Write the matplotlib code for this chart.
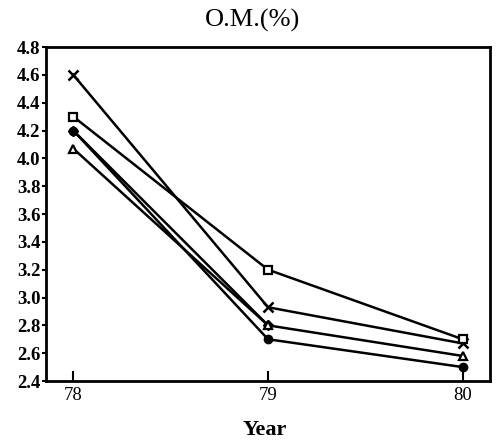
import numpy as np
import matplotlib
matplotlib.use("Agg")
import matplotlib.pyplot as plt

# Organic matter (%) by year
years = [78, 79, 80]
om_cross = [4.6, 2.93, 2.67]
om_square = [4.3, 3.2, 2.7]
om_filled = [4.2, 2.8, np.nan]
om_triangle = [4.07, 2.8, 2.58]
om_circle = [4.2, 2.7, 2.5]
yticks = [2.4, 2.6, 2.8, 3.0, 3.2, 3.4, 3.6, 3.8, 4.0, 4.2, 4.4, 4.6, 4.8]

plt.rcParams['font.family'] = ['Liberation Serif', 'DejaVu Serif']

fig = plt.figure(figsize=(4.97, 4.46), dpi=100)
ax = fig.add_axes([0.0926, 0.1457, 0.8934, 0.7489])

kw = dict(color='black', lw=1.8)
ax.plot(years, om_cross, marker='x', ms=7, mew=1.8, **kw)
ax.plot(years, om_square, marker='s', ms=5.5, mfc='white', mew=1.6, **kw)
ax.plot(years, om_filled, marker='D', ms=5, **kw)
ax.plot(years, om_triangle, marker='^', ms=6, mfc='white', mew=1.6, **kw)
ax.plot(years, om_circle, marker='o', ms=6, **kw)

ax.set_xlim(77.86, 80.14)
ax.set_ylim(2.4, 4.8)
ax.set_xticks(years)
ax.set_xticklabels([str(y) for y in years], fontsize=13.5)
ax.set_yticks(yticks)
ax.set_yticklabels([f'{v:.1f}' for v in yticks], fontsize=13.5, fontweight='bold')
ax.tick_params(axis='y', direction='out', length=3, width=1.5, pad=1)
ax.tick_params(axis='x', direction='in', length=7, width=1.5, pad=4)
for s in ax.spines.values():
    s.set_linewidth(2)

fig.text(0.509, 0.955, 'O.M.(%)', ha='center', va='center', fontsize=19)
fig.text(0.533, 0.036, 'Year', ha='center', va='center', fontsize=16, fontweight='bold')

fig.savefig('out.png', dpi=100)
